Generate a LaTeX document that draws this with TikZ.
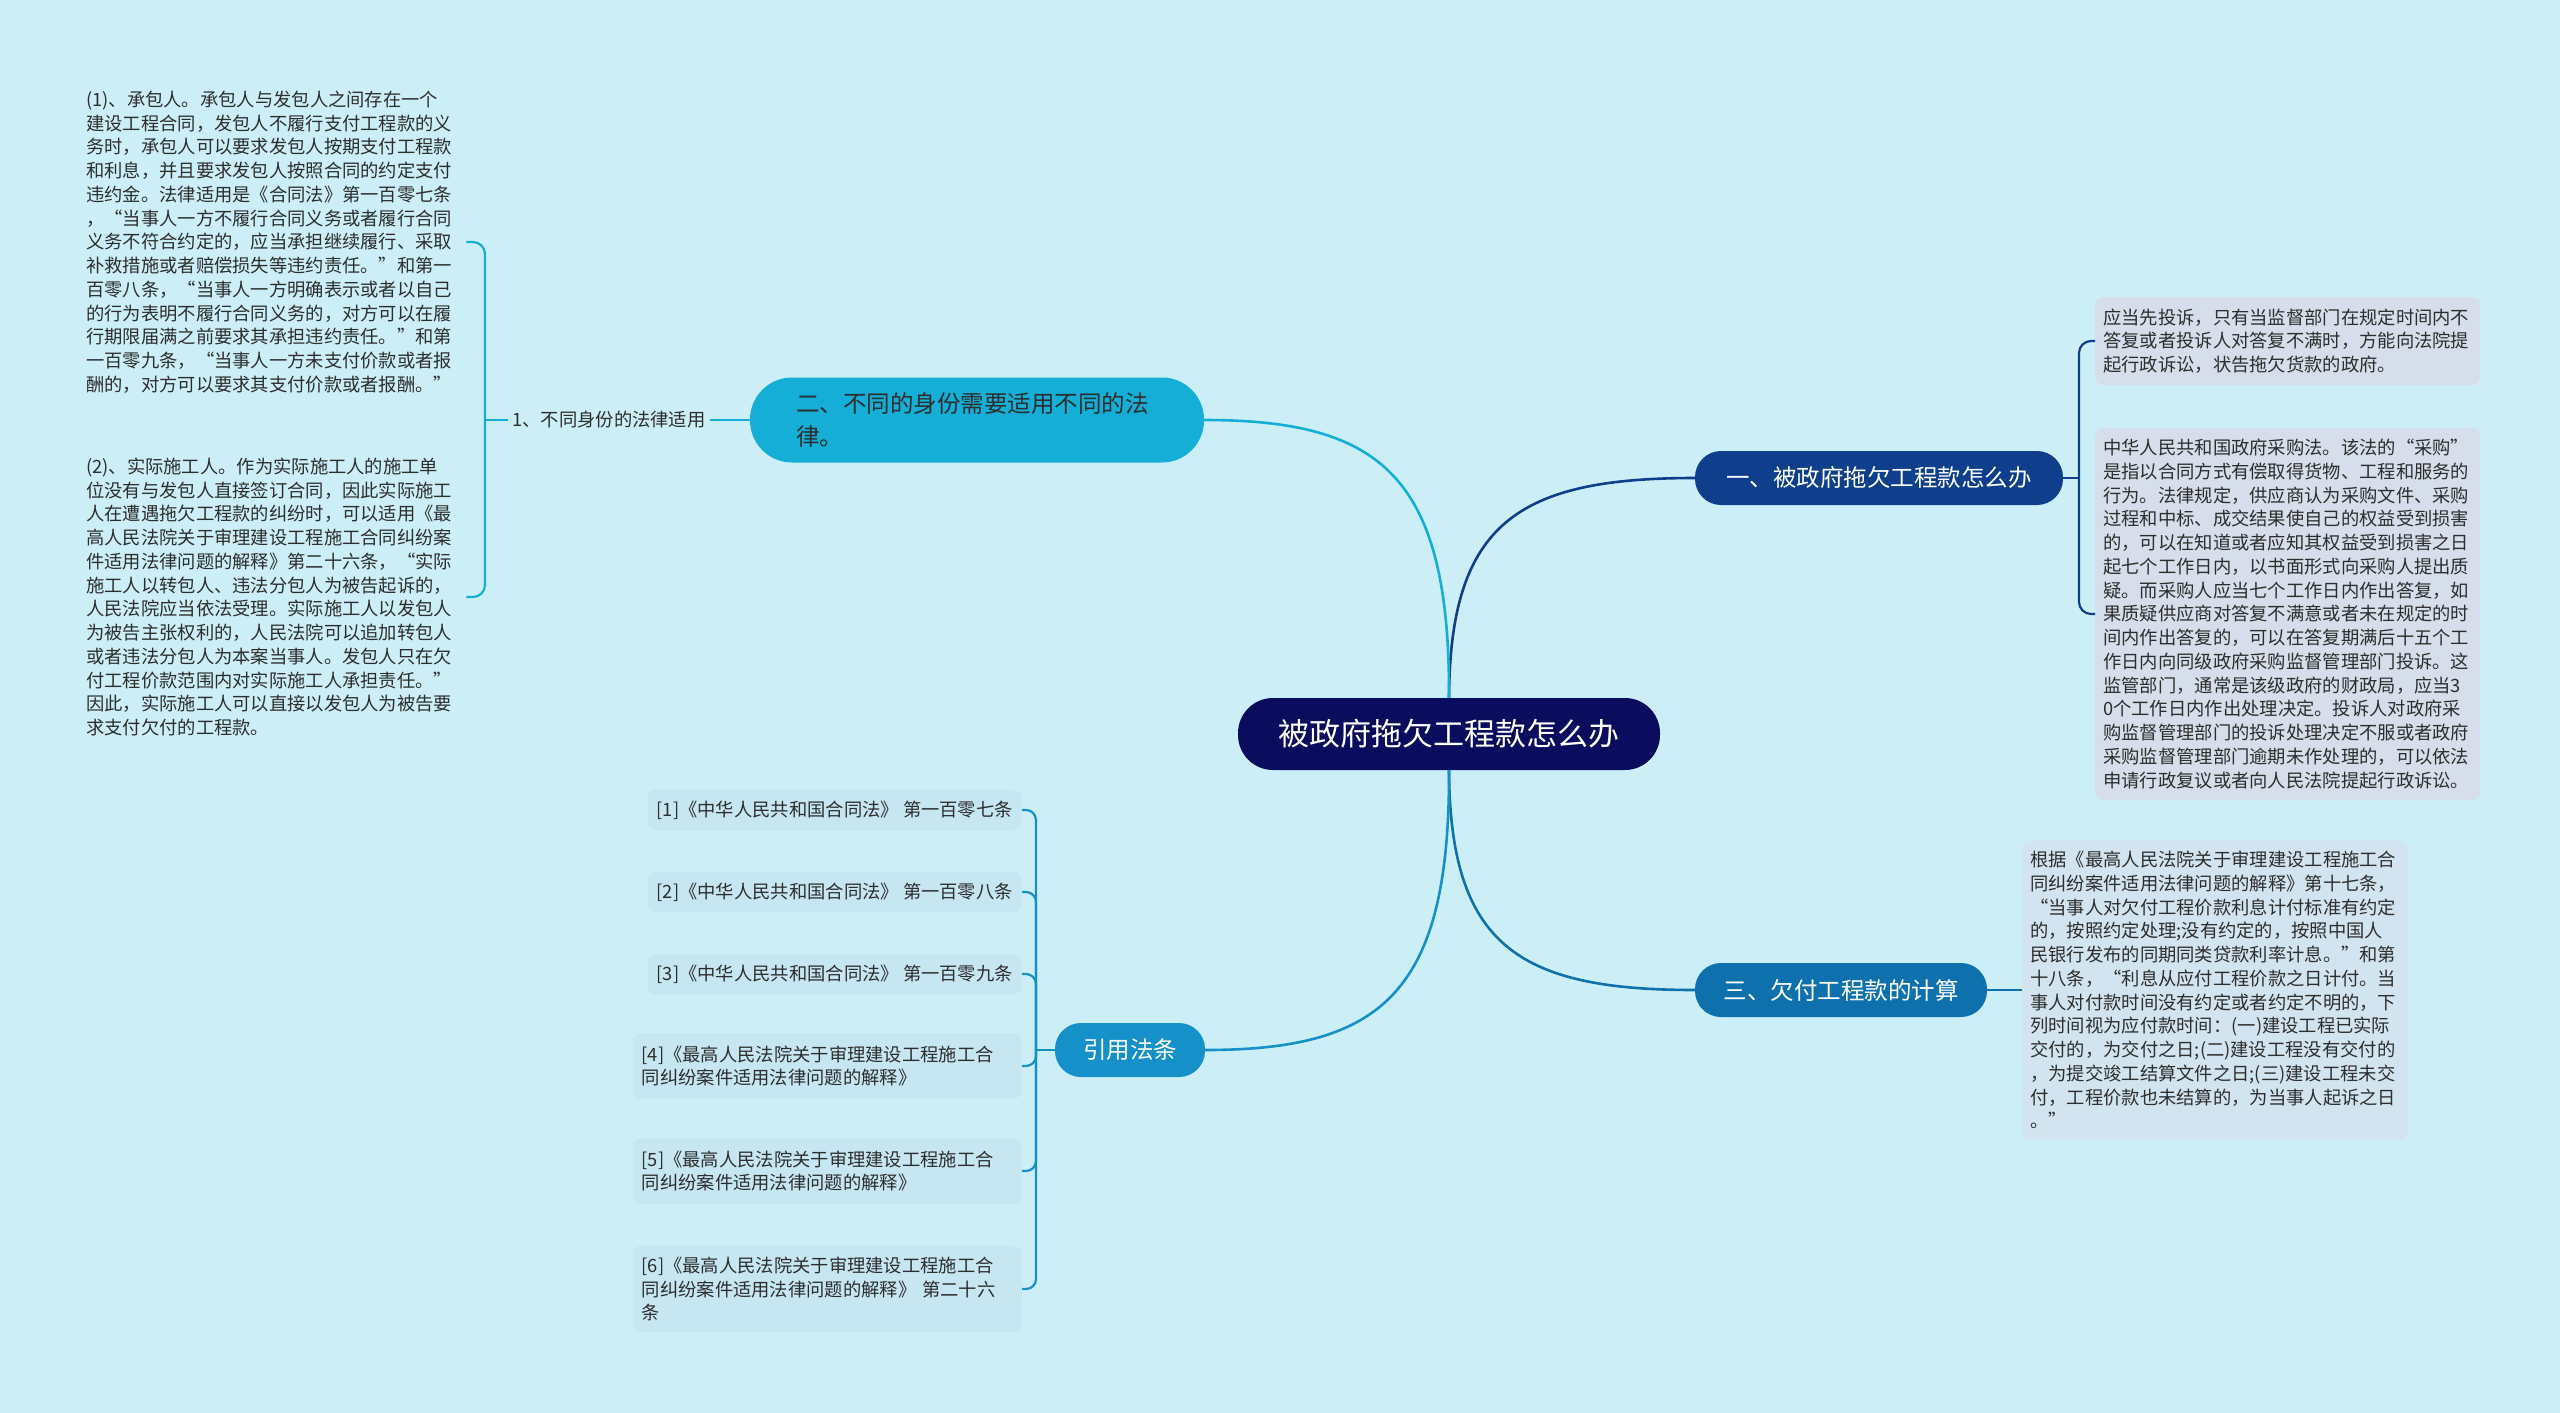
\documentclass[tikz,border=0pt]{standalone}
\usepackage{fontspec}
\setmainfont{Noto Sans CJK SC}
\usetikzlibrary{calc}
\definecolor{bgc}{RGB}{204,239,247}
\definecolor{rootc}{RGB}{10,12,94}
\definecolor{onec}{RGB}{14,62,140}
\definecolor{twoc}{RGB}{20,174,214}
\definecolor{threec}{RGB}{15,112,174}
\definecolor{fourc}{RGB}{22,144,201}
\definecolor{boxa}{RGB}{213,222,234}
\definecolor{boxb}{RGB}{210,228,239}
\definecolor{citec}{RGB}{198,230,242}
\definecolor{txt}{RGB}{45,45,45}
\begin{document}
\begin{tikzpicture}[x=1pt,y=-1pt,
  rootnode/.style={fill=rootc, rounded corners=35pt, minimum width=422pt, minimum height=72pt, inner sep=0pt, text=white, font=\fontsize{31}{36}\selectfont},
  topic/.style={rounded corners=26pt, minimum height=54pt, inner sep=0pt, text=white, font=\fontsize{23.5}{30}\selectfont},
  conn/.style={line width=2.6pt},
  br/.style={line width=2.2pt},
  small/.style={font=\fontsize{18.3}{23.75}\selectfont, text=txt},
  tblock/.style={small, align=left, text width=380pt, inner sep=0pt},
  rbox/.style={small, align=left, text width=369pt, inner xsep=8pt, inner ysep=0pt, rounded corners=8pt, anchor=west},
  cite/.style={small, align=left, fill=citec, rounded corners=8pt, inner xsep=9pt, inner ysep=0pt, minimum height=40pt, anchor=east},
]
\useasboundingbox[fill=bgc] (0,0) rectangle (2560,1413);

% main nodes
\node[rootnode] (root) at (1449,734) {被政府拖欠工程款怎么办};
\node[topic, fill=onec, minimum width=368pt] (n1) at (1879,478) {一、被政府拖欠工程款怎么办};
\node[topic, fill=threec, minimum width=292pt] (n3) at (1841,990) {三、欠付工程款的计算};
\node[topic, fill=fourc, minimum width=150pt] (n4) at (1130,1050) {引用法条};
\node[fill=twoc, rounded corners=42pt, minimum height=85pt, text width=362pt, inner xsep=46pt, inner ysep=0pt, align=left, text=txt, font=\fontsize{23.5}{33}\selectfont] (n2) at (977,420) {二、不同的身份需要适用不同的法\\律。};

% main curves
\draw[conn, draw=onec] (root.north) .. controls (1450,523) and (1518,478) .. (n1.west);
\draw[conn, draw=twoc] (root.north) .. controls (1450,476) and (1381,420) .. (n2.east);
\draw[conn, draw=threec] (root.south) .. controls (1450,946) and (1519,990) .. (n3.west);
\draw[conn, draw=fourc] (root.south) .. controls (1450,994) and (1381,1050) .. (n4.east);

% right side of topic one
\node[rbox, fill=boxa, minimum height=88pt] (r1) at (2095,341) {应当先投诉，只有当监督部门在规定时间内不\\答复或者投诉人对答复不满时，方能向法院提\\起行政诉讼，状告拖欠货款的政府。};
\node[rbox, fill=boxa, minimum height=372pt] (r2) at (2095,614) {中华人民共和国政府采购法。该法的“采购”\\是指以合同方式有偿取得货物、工程和服务的\\行为。法律规定，供应商认为采购文件、采购\\过程和中标、成交结果使自己的权益受到损害\\的，可以在知道或者应知其权益受到损害之日\\起七个工作日内，以书面形式向采购人提出质\\疑。而采购人应当七个工作日内作出答复，如\\果质疑供应商对答复不满意或者未在规定的时\\间内作出答复的，可以在答复期满后十五个工\\作日内向同级政府采购监督管理部门投诉。这\\监管部门，通常是该级政府的财政局，应当3\\0个工作日内作出处理决定。投诉人对政府采\\购监督管理部门的投诉处理决定不服或者政府\\采购监督管理部门逾期未作处理的，可以依法\\申请行政复议或者向人民法院提起行政诉讼。};
\coordinate (j1) at (2079,478);
\draw[br, draw=onec] (n1.east) -- (j1);
\draw[br, draw=onec, rounded corners=12pt] (j1) |- (r1.west);
\draw[br, draw=onec, rounded corners=12pt] (j1) |- (r2.west);

% topic three
\node[rbox, fill=boxb, minimum height=299pt, text width=370pt] (r3) at (2022,990) {根据《最高人民法院关于审理建设工程施工合\\同纠纷案件适用法律问题的解释》第十七条，\\“当事人对欠付工程价款利息计付标准有约定\\的，按照约定处理;没有约定的，按照中国人\\民银行发布的同期同类贷款利率计息。”和第\\十八条，“利息从应付工程价款之日计付。当\\事人对付款时间没有约定或者约定不明的，下\\列时间视为应付款时间：(一)建设工程已实际\\交付的，为交付之日;(二)建设工程没有交付的\\，为提交竣工结算文件之日;(三)建设工程未交\\付，工程价款也未结算的，为当事人起诉之日\\。”};
\draw[br, draw=threec] (n3.east) -- (r3.west);

% citations
\node[cite] (c1) at (1022,810) {[1]《中华人民共和国合同法》 第一百零七条};
\node[cite] (c2) at (1022,892) {[2]《中华人民共和国合同法》 第一百零八条};
\node[cite] (c3) at (1022,974) {[3]《中华人民共和国合同法》 第一百零九条};
\node[cite, text width=371pt, minimum height=65pt] (c4) at (1022,1066) {[4]《最高人民法院关于审理建设工程施工合\\同纠纷案件适用法律问题的解释》};
\node[cite, text width=371pt, minimum height=65pt] (c5) at (1022,1171) {[5]《最高人民法院关于审理建设工程施工合\\同纠纷案件适用法律问题的解释》};
\node[cite, text width=371pt, minimum height=86pt] (c6) at (1022,1289) {[6]《最高人民法院关于审理建设工程施工合\\同纠纷案件适用法律问题的解释》 第二十六\\条};
\coordinate (j4) at (1036,1050);
\draw[br, draw=fourc] (n4.west) -- (j4);
\foreach \c in {c1,c2,c3,c4,c5,c6}
  \draw[br, draw=fourc, rounded corners=10pt] (j4) |- (\c.east);

% topic two, left side
\node[small, inner xsep=4pt, inner ysep=2pt] (lab) at (609,420) {1、不同身份的法律适用};
\draw[br, draw=twoc] (lab.east) -- (n2.west);
\coordinate (j2) at (485,420);
\draw[br, draw=twoc] (lab.west) -- (j2);
\node[tblock, anchor=west] (t1) at (86,242) {(1)、承包人。承包人与发包人之间存在一个\\建设工程合同，发包人不履行支付工程款的义\\务时，承包人可以要求发包人按期支付工程款\\和利息，并且要求发包人按照合同的约定支付\\违约金。法律适用是《合同法》第一百零七条\\，“当事人一方不履行合同义务或者履行合同\\义务不符合约定的，应当承担继续履行、采取\\补救措施或者赔偿损失等违约责任。”和第一\\百零八条，“当事人一方明确表示或者以自己\\的行为表明不履行合同义务的，对方可以在履\\行期限届满之前要求其承担违约责任。”和第\\一百零九条，“当事人一方未支付价款或者报\\酬的，对方可以要求其支付价款或者报酬。”};
\node[tblock, anchor=west] (t2) at (86,597) {(2)、实际施工人。作为实际施工人的施工单\\位没有与发包人直接签订合同，因此实际施工\\人在遭遇拖欠工程款的纠纷时，可以适用《最\\高人民法院关于审理建设工程施工合同纠纷案\\件适用法律问题的解释》第二十六条，“实际\\施工人以转包人、违法分包人为被告起诉的，\\人民法院应当依法受理。实际施工人以发包人\\为被告主张权利的，人民法院可以追加转包人\\或者违法分包人为本案当事人。发包人只在欠\\付工程价款范围内对实际施工人承担责任。”\\因此，实际施工人可以直接以发包人为被告要\\求支付欠付的工程款。};
\draw[br, draw=twoc, rounded corners=12pt] (j2) |- (t1.east);
\draw[br, draw=twoc, rounded corners=12pt] (j2) |- (t2.east);
\end{tikzpicture}
\end{document}
